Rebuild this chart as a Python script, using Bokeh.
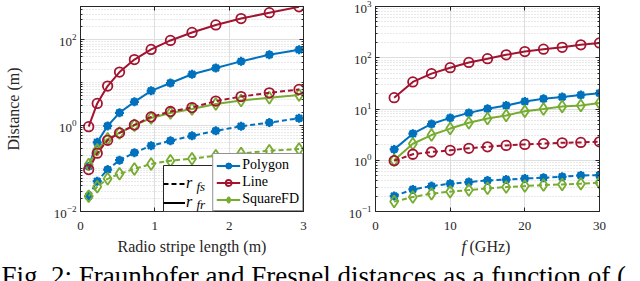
from bokeh.plotting import figure
from bokeh.models import (FixedTicker, Legend, LegendItem, Label, LinearAxis, LogAxis,
                          CustomJSTickFormatter, BoxAnnotation)
from bokeh.layouts import column, row
from bokeh.embed import file_html
from bokeh.resources import INLINE

# ---------------- data ----------------
stripe_len = [0.11, 0.225, 0.365, 0.525, 0.725, 0.95, 1.21, 1.5, 1.82, 2.16, 2.54, 2.94]
poly_rfr_len = [0.113, 0.41, 0.99, 2.0, 3.6, 6.5, 9.9, 15.8, 22.1, 31.6, 45, 59]
line_rfr_len = [0.95, 3.3, 8.4, 17.8, 34.7, 60, 97, 149, 223, 314, 430, 590]
sq_rfr_len = [0.124, 0.275, 0.495, 0.68, 1.02, 1.51, 1.98, 2.45, 3.2, 3.85, 4.47, 5.16]
poly_rfs_len = [0.0228, 0.0508, 0.0948, 0.157, 0.235, 0.341, 0.445, 0.58, 0.758, 0.973, 1.18, 1.49]
line_rfs_len = [0.095, 0.229, 0.457, 0.68, 1.04, 1.6, 2.14, 2.65, 3.75, 4.77, 5.84, 7.0]
sq_rfs_len = [0.0228, 0.0377, 0.0578, 0.0754, 0.0984, 0.128, 0.153, 0.170, 0.2, 0.226, 0.261, 0.286]

freq_ghz = [2.5, 5, 7.5, 10, 12.5, 15, 17.5, 20, 22.5, 25, 27.5, 30]
poly_rfr_f = [1.63, 3.3, 5.1, 6.7, 8.4, 10.1, 11.7, 14.0, 15.8, 17.1, 18.7, 20.4]
line_rfr_f = [16.6, 33.7, 49, 64, 81, 96, 114, 132, 147, 160, 179, 195]
sq_rfr_f = [1.0, 2.1, 3.1, 4.15, 5.4, 6.5, 7.5, 9.0, 10.0, 11.2, 11.7, 13.1]
poly_rfs_f = [0.2, 0.27, 0.313, 0.349, 0.375, 0.404, 0.42, 0.44, 0.456, 0.476, 0.505, 0.51]
line_rfs_f = [0.98, 1.31, 1.45, 1.56, 1.71, 1.83, 1.95, 2.04, 2.11, 2.19, 2.23, 2.29]
sq_rfs_f = [0.156, 0.192, 0.223, 0.244, 0.262, 0.283, 0.3, 0.313, 0.328, 0.338, 0.349, 0.365]

left_xticks = [0, 1, 2, 3]
left_yticks = [0.01, 1, 100]
right_xticks = [0, 10, 20, 30]
right_yticks = [0.1, 1, 10, 100, 1000]
series_names = ["Polygon", "Line", "SquareFD"]
left_xlabel = "Radio stripe length (m)"
left_ylabel = "Distance (m)"
caption = "Fig. 2: Fraunhofer and Fresnel distances as a function of ("

# ---------------- style ----------------
SERIF = "Liberation Serif"
TXT = "#262626"
BLUE, RED, GREEN = "#0072BD", "#A2142F", "#77AC30"
DASH = "5 3"
NAN = float("nan")
FRAME_H = 205


def log_minor(lo, hi, majors):
    out = []
    for e in range(lo, hi + 1):
        for k in range(1, 10):
            v = float(f"{k}e{e}")
            if v not in majors:
                out.append(v)
    return out


def style_axes(p):
    for ax in p.xaxis + p.yaxis:
        ax.major_tick_in = 4
        ax.major_tick_out = 0
        ax.minor_tick_in = 2
        ax.minor_tick_out = 0
        ax.axis_line_color = TXT
        ax.major_tick_line_color = TXT
        ax.minor_tick_line_color = TXT
        ax.major_label_text_font = SERIF
        ax.major_label_text_font_size = "13px"
        ax.major_label_text_color = TXT
        ax.axis_label_text_font = SERIF
        ax.axis_label_text_font_style = "normal"
        ax.axis_label_text_font_size = "16px"
        ax.axis_label_text_color = TXT
    p.xaxis.major_label_standoff = 10
    p.yaxis.major_label_standoff = 4
    p.xgrid.grid_line_color = "#dedede"
    p.ygrid.grid_line_color = "#dedede"
    p.ygrid.minor_grid_line_color = "#d2d2d2"
    p.ygrid.minor_grid_line_dash = "1 2"
    p.outline_line_color = TXT
    p.outline_line_width = 1
    p.background_fill_color = "white"
    p.border_fill_color = "white"


def mirror_axes(p, xt, yt, ymin):
    top = LinearAxis(ticker=FixedTicker(ticks=xt, minor_ticks=[]),
                     formatter=CustomJSTickFormatter(code="return ''"),
                     major_label_text_font_size="0px", major_label_standoff=0,
                     major_tick_in=4, major_tick_out=0, minor_tick_in=0, minor_tick_out=0,
                     axis_line_color=TXT, major_tick_line_color=TXT)
    p.add_layout(top, "above")
    right = LogAxis(ticker=FixedTicker(ticks=yt, minor_ticks=ymin),
                    formatter=CustomJSTickFormatter(code="return ''"),
                    major_label_text_font_size="0px", major_label_standoff=0,
                    major_tick_in=4, major_tick_out=0, minor_tick_in=2, minor_tick_out=0,
                    axis_line_color=TXT, major_tick_line_color=TXT, minor_tick_line_color=TXT)
    p.add_layout(right, "right")


def draw_series(p, x, y, color, kind, dash):
    rs = [p.line(x, y, line_color=color, line_width=2, line_dash=dash)]
    if kind == "poly":
        rs.append(p.scatter(x, y, marker="circle", size=7, fill_color=color, line_color=color))
        rs.append(p.scatter(x, y, marker="asterisk", size=9, line_color=color, line_width=2.2))
    elif kind == "circle":
        rs.append(p.scatter(x, y, marker="circle", size=9.5, fill_color=None,
                            line_color=color, line_width=1.8))
    else:
        rs.append(p.scatter(x, y, marker="diamond", size=12, fill_color=None,
                            line_color=color, line_width=1.8))
    return rs


# ---------------- left panel ----------------
left_minor = log_minor(-2, 2, left_yticks)
p1 = figure(frame_width=223, frame_height=FRAME_H, min_border_left=80, min_border_right=8,
            min_border_top=6, min_border_bottom=26, x_range=(0, 3), y_range=(0.01, 600),
            y_axis_type="log", toolbar_location=None, output_backend="svg")
p1.xaxis.ticker = FixedTicker(ticks=left_xticks, minor_ticks=[])
p1.yaxis.ticker = FixedTicker(ticks=left_yticks, minor_ticks=left_minor)
style_axes(p1)
p1.yaxis.axis_label = left_ylabel
p1.yaxis.axis_label_standoff = 29
mirror_axes(p1, left_xticks, left_yticks, left_minor)

L_poly = draw_series(p1, stripe_len, poly_rfr_len, BLUE, "poly", "solid")
L_line = draw_series(p1, stripe_len, line_rfr_len, RED, "circle", "solid")
L_sq = draw_series(p1, stripe_len, sq_rfr_len, GREEN, "diamond", "solid")
draw_series(p1, stripe_len, poly_rfs_len, BLUE, "poly", DASH)
draw_series(p1, stripe_len, line_rfs_len, RED, "circle", DASH)
draw_series(p1, stripe_len, sq_rfs_len, GREEN, "diamond", DASH)

# legend-only line samples (no visible data)
dummy_dash = p1.line([NAN, NAN], [NAN, NAN], line_color="black", line_width=2, line_dash=DASH)
dummy_solid = p1.line([NAN, NAN], [NAN, NAN], line_color="black", line_width=2)

# box behind the line-style legend (legend itself is transparent so subscripts show)
p1.add_layout(BoxAnnotation(left=83, right=134, bottom=0, top=46,
                            left_units="screen", right_units="screen",
                            bottom_units="screen", top_units="screen",
                            fill_color="white", fill_alpha=1.0,
                            line_color=TXT, line_width=1, line_alpha=1.0))

leg_series = Legend(items=[LegendItem(label=series_names[0], renderers=L_poly),
                           LegendItem(label=series_names[1], renderers=L_line),
                           LegendItem(label=series_names[2], renderers=L_sq)],
                    location="bottom_right", margin=0, padding=3, spacing=1,
                    glyph_width=24, glyph_height=15, label_height=15, label_standoff=2,
                    label_text_font=SERIF, label_text_font_size="14px", label_text_color="black",
                    border_line_color=TXT, border_line_width=1,
                    background_fill_color="white", background_fill_alpha=1.0)
p1.add_layout(leg_series)

leg_r = Legend(items=[LegendItem(label="r", renderers=[dummy_dash]),
                      LegendItem(label="r", renderers=[dummy_solid])],
               location=(83, 0), margin=0, padding=3, spacing=1,
               glyph_width=22, glyph_height=17, label_height=17, label_width=20,
               label_standoff=1, label_text_font=SERIF, label_text_font_size="16px",
               label_text_font_style="italic", label_text_color="black",
               border_line_color=None, background_fill_alpha=0.0)
p1.add_layout(leg_r)
for yoff, sub in [(25, "fs"), (7, "fr")]:
    p1.add_layout(Label(x=116, y=yoff, x_units="screen", y_units="screen", text=sub,
                        text_font=SERIF, text_font_style="italic", text_font_size="13px",
                        text_baseline="middle", text_color="black"))

# ---------------- right panel ----------------
right_minor = log_minor(-1, 3, right_yticks)
p2 = figure(frame_width=224, frame_height=FRAME_H, min_border_left=64, min_border_right=41,
            min_border_top=6, min_border_bottom=26, x_range=(0, 30), y_range=(0.1, 1000),
            y_axis_type="log", toolbar_location=None, output_backend="svg")
p2.xaxis.ticker = FixedTicker(ticks=right_xticks, minor_ticks=[])
p2.yaxis.ticker = FixedTicker(ticks=right_yticks, minor_ticks=right_minor)
style_axes(p2)
mirror_axes(p2, right_xticks, right_yticks, right_minor)

draw_series(p2, freq_ghz, poly_rfr_f, BLUE, "poly", "solid")
draw_series(p2, freq_ghz, line_rfr_f, RED, "circle", "solid")
draw_series(p2, freq_ghz, sq_rfr_f, GREEN, "diamond", "solid")
draw_series(p2, freq_ghz, poly_rfs_f, BLUE, "poly", DASH)
draw_series(p2, freq_ghz, line_rfs_f, RED, "circle", DASH)
draw_series(p2, freq_ghz, sq_rfs_f, GREEN, "diamond", DASH)

# ---------------- bottom strip: x-axis titles and caption ----------------
STRIP_H = 281 - (6 + FRAME_H + 26)
strip = figure(width=640, height=STRIP_H, toolbar_location=None, output_backend="svg",
               min_border=0, x_axis_location=None, y_axis_location=None,
               outline_line_color=None, x_range=(0, 1), y_range=(0, 1))
strip.grid.visible = False
strip.add_layout(Label(x=191.5, y=STRIP_H, x_units="screen", y_units="screen",
                       text=left_xlabel, text_font=SERIF, text_font_size="16px",
                       text_align="center", text_baseline="top", text_color=TXT))
strip.add_layout(Label(x=461, y=STRIP_H, x_units="screen", y_units="screen",
                       text="f", text_font=SERIF, text_font_style="italic",
                       text_font_size="16px", text_baseline="top", text_color=TXT))
strip.add_layout(Label(x=469, y=STRIP_H, x_units="screen", y_units="screen",
                       text="(GHz)", text_font=SERIF, text_font_size="16px",
                       text_baseline="top", text_color=TXT))
strip.add_layout(Label(x=1, y=21, x_units="screen", y_units="screen", text=caption,
                       text_font=SERIF, text_font_size="27px", text_baseline="top",
                       text_color="black"))

layout = column(row(p1, p2), strip)
open("out.html", "w").write(file_html(layout, INLINE))
